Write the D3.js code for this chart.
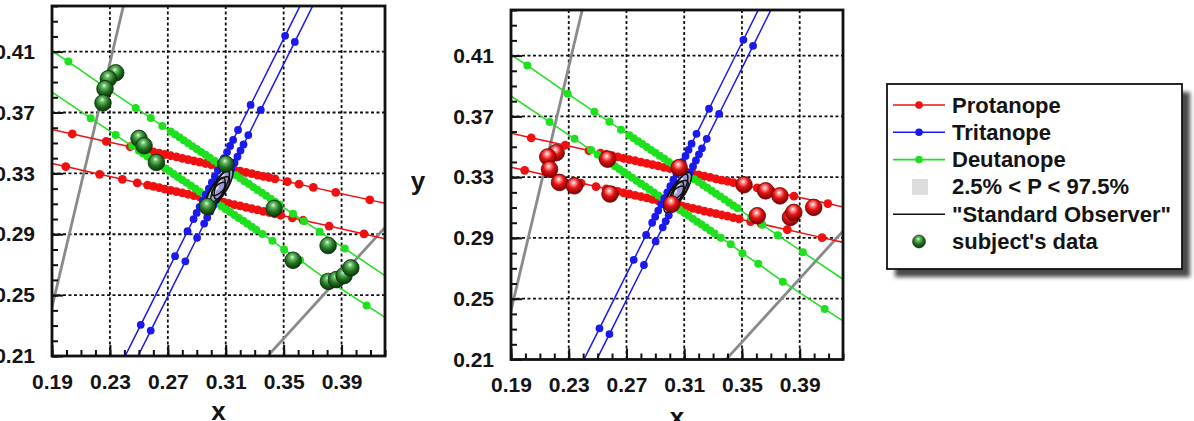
<!DOCTYPE html>
<html>
<head>
<meta charset="utf-8">
<script src="https://cdn.jsdelivr.net/npm/d3@7"></script>
<style>
  body { margin: 0; background: #fff; }
  svg { display: block; }
  text { font-family: "Liberation Sans", Arial, sans-serif; font-weight: bold; fill: #141414; }
</style>
</head>
<body>
<div id="chart"></div>
<script>
// axis ticks (labelled)
const xTicks = [0.19, 0.23, 0.27, 0.31, 0.35, 0.39]
const yTicks = [0.21, 0.25, 0.29, 0.33, 0.37, 0.41]

// confusion lines [x, y] - points beyond the frame get clipped
const protanopeUpper = [[0.175,0.3621],[0.204,0.3559],[0.2275,0.3510],[0.244,0.3475],[0.252,0.3458],[0.256,0.3450],[0.260,0.3441],[0.264,0.3433],[0.268,0.3424],[0.272,0.3416],[0.276,0.3408],[0.280,0.3399],[0.284,0.3391],[0.288,0.3382],[0.292,0.3374],[0.296,0.3365],[0.300,0.3357],[0.304,0.3348],[0.308,0.3340],[0.312,0.3332],[0.316,0.3323],[0.320,0.3315],[0.324,0.3306],[0.328,0.3298],[0.332,0.3289],[0.336,0.3281],[0.340,0.3273],[0.344,0.3264],[0.3526,0.3246],[0.3606,0.3229],[0.3705,0.3208],[0.386,0.3175],[0.4095,0.3126],[0.44,0.3062]]
const protanopeLower = [[0.175,0.3397],[0.1995,0.3345],[0.2229,0.3294],[0.2386,0.3261],[0.2489,0.3238],[0.256,0.3223],[0.260,0.3215],[0.264,0.3206],[0.268,0.3197],[0.272,0.3189],[0.276,0.3180],[0.280,0.3172],[0.284,0.3163],[0.288,0.3154],[0.292,0.3146],[0.296,0.3137],[0.300,0.3129],[0.304,0.3120],[0.308,0.3111],[0.312,0.3103],[0.316,0.3094],[0.320,0.3086],[0.324,0.3077],[0.328,0.3068],[0.332,0.3060],[0.336,0.3051],[0.340,0.3043],[0.344,0.3034],[0.348,0.3025],[0.356,0.3008],[0.3634,0.2992],[0.3814,0.2954],[0.4055,0.2902],[0.44,0.2828]]
const tritanopeA = [[0.2379,0.2050],[0.2513,0.2305],[0.2750,0.2756],[0.2836,0.2920],[0.2878,0.3000],[0.2899,0.3040],[0.2920,0.3080],[0.2941,0.3120],[0.2962,0.3160],[0.2983,0.3200],[0.3004,0.3240],[0.3025,0.3280],[0.3046,0.3320],[0.3067,0.3360],[0.3088,0.3400],[0.3109,0.3440],[0.3130,0.3480],[0.3151,0.3520],[0.3185,0.3585],[0.3272,0.3750],[0.3510,0.4204],[0.3718,0.4600]]
const tritanopeB = [[0.2468,0.2050],[0.2582,0.2267],[0.2821,0.2722],[0.2902,0.2877],[0.2951,0.2970],[0.2972,0.3010],[0.2993,0.3050],[0.3014,0.3090],[0.3035,0.3130],[0.3056,0.3170],[0.3077,0.3210],[0.3098,0.3250],[0.3119,0.3290],[0.3140,0.3330],[0.3161,0.3370],[0.3181,0.3410],[0.3202,0.3450],[0.3223,0.3490],[0.3256,0.3552],[0.3342,0.3717],[0.3577,0.4164],[0.3805,0.4600]]
const deutanopeUpper = [[0.175,0.4196],[0.2013,0.4035],[0.2293,0.3849],[0.2478,0.3730],[0.2582,0.3664],[0.2662,0.3612],[0.272,0.3575],[0.275,0.3556],[0.278,0.3537],[0.281,0.3518],[0.284,0.3498],[0.287,0.3479],[0.290,0.3460],[0.293,0.3441],[0.296,0.3422],[0.299,0.3402],[0.302,0.3383],[0.305,0.3364],[0.308,0.3345],[0.311,0.3326],[0.314,0.3306],[0.317,0.3287],[0.320,0.3268],[0.323,0.3249],[0.326,0.3230],[0.329,0.3210],[0.332,0.3191],[0.335,0.3172],[0.338,0.3153],[0.341,0.3134],[0.344,0.3114],[0.347,0.3095],[0.3565,0.3034],[0.3641,0.2986],[0.3749,0.2917],[0.3922,0.2806],[0.44,0.2500]]
const deutanopeLower = [[0.17,0.3962],[0.2167,0.3663],[0.234,0.3552],[0.2455,0.3478],[0.250,0.3449],[0.253,0.3430],[0.256,0.3411],[0.259,0.3392],[0.262,0.3372],[0.265,0.3353],[0.268,0.3334],[0.271,0.3315],[0.274,0.3296],[0.277,0.3276],[0.280,0.3257],[0.283,0.3238],[0.286,0.3219],[0.289,0.3199],[0.292,0.3180],[0.295,0.3161],[0.298,0.3142],[0.301,0.3122],[0.304,0.3103],[0.307,0.3084],[0.310,0.3065],[0.313,0.3046],[0.316,0.3026],[0.319,0.3007],[0.322,0.2988],[0.325,0.2969],[0.328,0.2949],[0.331,0.2930],[0.3353,0.2902],[0.3422,0.2858],[0.3503,0.2800],[0.3613,0.2730],[0.3783,0.2612],[0.4073,0.2432],[0.44,0.2232]]

// grey lines
const greySteep = [[0.1795,0.20],[0.2418,0.45]]
const greyShallow = [[0.3294,0.20],[0.43,0.3049]]

// "Standard Observer" contours: cx, cy, semi-major, semi-minor, angle (deg)
const observerEllipses = [[0.3055,0.3200,0.0155,0.0048,56],[0.3060,0.3208,0.0125,0.0036,63],[0.3048,0.3192,0.0110,0.0042,48],[0.3058,0.3202,0.0075,0.0030,70],[0.3052,0.3198,0.0060,0.0026,40]]

// subject's data
const subjectLeft = [[0.2340,0.3961],[0.2289,0.3922],[0.2266,0.3856],[0.2252,0.3763],[0.2501,0.3530],[0.2536,0.3482],[0.2621,0.3372],[0.3100,0.3361],[0.2973,0.3082],[0.3434,0.3070],[0.3807,0.2826],[0.3565,0.2729],[0.3809,0.2590],[0.3864,0.2602],[0.3917,0.2628],[0.3964,0.2679]]
const subjectRight = [[0.2213,0.3461],[0.2155,0.3433],[0.2167,0.3352],[0.2236,0.3265],[0.2339,0.3243],[0.2569,0.3418],[0.2586,0.3189],[0.3065,0.3363],[0.3013,0.3123],[0.3514,0.3250],[0.3664,0.3210],[0.3763,0.3177],[0.3606,0.3046],[0.3836,0.3035],[0.3859,0.3068],[0.3997,0.3101]]

const legendLabels = ["Protanope", "Tritanope", "Deutanope", "2.5% < P < 97.5%", "\"Standard Observer\"", "subject's data"]

const width = 1194
const height = 421

const svg = d3.select("#chart")
  .append("svg")
    .attr("width", width)
    .attr("height", height)

const defs = svg.append("defs")

function ball(id, stops) {
  const g = defs.append("radialGradient")
    .attr("id", id)
    .attr("cx", "45%").attr("cy", "38%").attr("r", "62%")
    .attr("fx", "45%").attr("fy", "30%")
  stops.forEach(s => g.append("stop").attr("offset", s[0]).attr("stop-color", s[1]))
}
ball("greenBall", [["0%", "#eaffea"], ["22%", "#6cbf6c"], ["60%", "#21701f"], ["100%", "#0b340b"]])
ball("redBall", [["0%", "#ffffff"], ["20%", "#ff9090"], ["50%", "#e41414"], ["100%", "#7a0000"]])

defs.append("filter").attr("id", "shadowBlur")
  .append("feGaussianBlur").attr("stdDeviation", 2)

const lineColors = { red: "#f01010", blue: "#1a1aee", green: "#1ee01e" }

const series = [
  { pts: protanopeUpper, color: lineColors.red, r: 4.4 },
  { pts: protanopeLower, color: lineColors.red, r: 4.4 },
  { pts: deutanopeUpper, color: lineColors.green, r: 4 },
  { pts: deutanopeLower, color: lineColors.green, r: 4 },
  { pts: tritanopeA, color: lineColors.blue, r: 3.9 },
  { pts: tritanopeB, color: lineColors.blue, r: 3.9 }
]

const xMinor = d3.range(19, 43).map(d => d / 100)
const yMinor = d3.range(21, 45).map(d => d / 100)

function drawPanel(p, idx) {
  const x = d3.scaleLinear().domain([0.19, 0.42]).range([p.left, p.right])
  const y = d3.scaleLinear().domain([0.21, 0.44]).range([p.bottom, p.top])
  const g = svg.append("g")

  defs.append("clipPath").attr("id", "clip" + idx)
    .append("rect")
      .attr("x", p.left).attr("y", p.top)
      .attr("width", p.right - p.left).attr("height", p.bottom - p.top)

  const inner = g.append("g").attr("clip-path", "url(#clip" + idx + ")")

  // dashed grid
  inner.selectAll(".vgrid").data(xTicks.slice(1)).join("line")
    .attr("x1", d => x(d)).attr("x2", d => x(d))
    .attr("y1", p.top).attr("y2", p.bottom)
    .attr("stroke", "#111").attr("stroke-width", 1.8).attr("stroke-dasharray", "3,2.5")
  inner.selectAll(".hgrid").data(yTicks.slice(1)).join("line")
    .attr("y1", d => y(d)).attr("y2", d => y(d))
    .attr("x1", p.left).attr("x2", p.right)
    .attr("stroke", "#111").attr("stroke-width", 1.8).attr("stroke-dasharray", "3,2.5")

  const line = d3.line().x(d => x(d[0])).y(d => y(d[1]))

  // grey lines
  ;[greySteep, greyShallow].forEach(l => {
    inner.append("path").attr("d", line(l))
      .attr("fill", "none").attr("stroke", "#8a8a8a").attr("stroke-width", 2.8)
  })

  // confusion lines with their markers
  series.forEach(s => {
    inner.append("path").attr("d", line(s.pts))
      .attr("fill", "none").attr("stroke", s.color).attr("stroke-width", 1.5)
    inner.append("g").selectAll("circle").data(s.pts).join("circle")
      .attr("cx", d => x(d[0])).attr("cy", d => y(d[1]))
      .attr("r", s.r).attr("fill", s.color)
  })

  // standard observer contours
  observerEllipses.forEach((e, i) => {
    const th = e[4] * Math.PI / 180
    const pts = d3.range(0, 2 * Math.PI + 0.01, Math.PI / 30).map(t => [
      e[0] + e[2] * Math.cos(t) * Math.cos(th) - e[3] * Math.sin(t) * Math.sin(th),
      e[1] + e[2] * Math.cos(t) * Math.sin(th) + e[3] * Math.sin(t) * Math.cos(th)
    ])
    inner.append("path").attr("d", line(pts) + "Z")
      .attr("fill", i === 0 ? "#d0d0d0" : "none")
      .attr("fill-opacity", 0.7)
      .attr("stroke", "#111").attr("stroke-width", 1.5)
  })

  // subject's data
  inner.append("g").selectAll("circle").data(p.subjects).join("circle")
    .attr("cx", d => x(d[0])).attr("cy", d => y(d[1]))
    .attr("r", 8.3)
    .attr("fill", "url(#" + p.ball + ")")
    .attr("stroke", p.ball === "redBall" ? "#6a0000" : "#0a2a0a")
    .attr("stroke-width", 0.8)

  // frame
  g.append("rect")
    .attr("x", p.left).attr("y", p.top)
    .attr("width", p.right - p.left).attr("height", p.bottom - p.top)
    .attr("fill", "none").attr("stroke", "#111").attr("stroke-width", 2.8)

  // ticks pointing inward
  const xMinorAxis = g.append("g").attr("transform", `translate(0,${p.bottom})`)
    .call(d3.axisBottom(x).tickValues(xMinor).tickSize(-6).tickFormat(""))
  const xMajorAxis = g.append("g").attr("transform", `translate(0,${p.bottom})`)
    .call(d3.axisBottom(x).tickValues(xTicks).tickSize(-11).tickPadding(18).tickFormat(d3.format(".2f")))
  const yMinorAxis = g.append("g").attr("transform", `translate(${p.left},0)`)
    .call(d3.axisLeft(y).tickValues(yMinor).tickSize(-6).tickFormat(""))
  const yMajorAxis = g.append("g").attr("transform", `translate(${p.left},0)`)
    .call(d3.axisLeft(y).tickValues(yTicks).tickSize(-11).tickPadding(17).tickFormat(d3.format(".2f")))

  ;[xMinorAxis, xMajorAxis, yMinorAxis, yMajorAxis].forEach(a => {
    a.select(".domain").remove()
    a.selectAll(".tick line").attr("stroke", "#111").attr("stroke-width", 2)
    a.selectAll("text").attr("font-size", 21).attr("font-family", null).attr("fill", "#141414")
  })

  // axis title x
  g.append("text")
    .attr("x", (p.left + p.right) / 2).attr("y", p.xTitleY)
    .attr("text-anchor", "middle").attr("font-size", 26)
    .text("x")
}

const panels = [
  { left: 52, right: 385, top: 6, bottom: 356, subjects: subjectLeft, ball: "greenBall", xTitleY: 420 },
  { left: 511, right: 843, top: 10, bottom: 359.5, subjects: subjectRight, ball: "redBall", xTitleY: 426 }
]
panels.forEach(drawPanel)

// y title of the right panel
svg.append("text")
  .attr("x", 418).attr("y", 190)
  .attr("text-anchor", "middle").attr("font-size", 26)
  .text("y")

// legend
const lg = { x: 887, y: 84, w: 295, h: 185 }
svg.append("rect")
  .attr("x", lg.x + 8).attr("y", lg.y + 8).attr("width", lg.w).attr("height", lg.h)
  .attr("fill", "#4a4a4a").attr("filter", "url(#shadowBlur)")
svg.append("rect")
  .attr("x", lg.x).attr("y", lg.y).attr("width", lg.w).attr("height", lg.h)
  .attr("fill", "#fff").attr("stroke", "#111").attr("stroke-width", 1.8)

const legendRow = d3.scalePoint().domain(legendLabels).range([105, 241.5])
const entry = svg.append("g").selectAll("g").data(legendLabels).join("g")
  .attr("transform", d => `translate(0,${legendRow(d)})`)

entry.append("text")
  .attr("x", 952).attr("y", 7.5)
  .attr("font-size", 22)
  .text(d => d)

const legendLineColors = [lineColors.red, lineColors.blue, lineColors.green]
entry.filter((d, i) => i < 3 || i === 4).append("line")
  .attr("x1", 893).attr("x2", 945)
  .attr("stroke", (d, i) => i < 3 ? legendLineColors[i] : "#111")
  .attr("stroke-width", 1.6)
entry.filter((d, i) => i < 3).append("circle")
  .attr("cx", 919).attr("r", 3.8)
  .attr("fill", (d, i) => legendLineColors[i])
entry.filter((d, i) => i === 3).append("rect")
  .attr("x", 912).attr("y", -8).attr("width", 16).attr("height", 16)
  .attr("fill", "#dcdcdc")
entry.filter((d, i) => i === 5).append("circle")
  .attr("cx", 919).attr("r", 6.5)
  .attr("fill", "url(#greenBall)").attr("stroke", "#0a2a0a").attr("stroke-width", 0.6)
</script>
</body>
</html>
